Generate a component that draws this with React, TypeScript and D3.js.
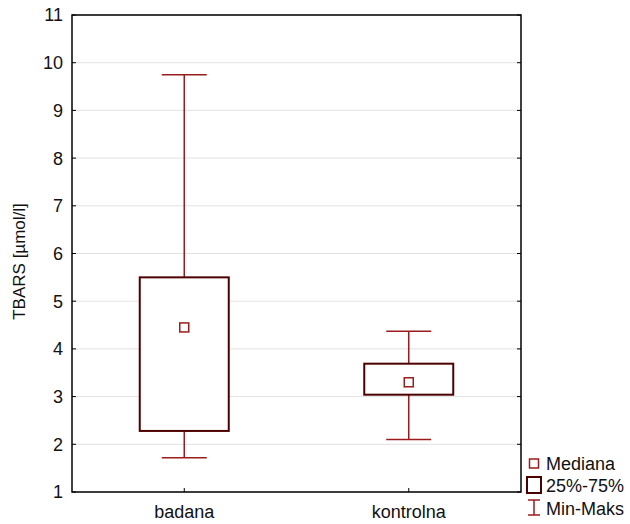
import * as d3 from "d3";

const categories = ["badana", "kontrolna"];
const mins = [1.72, 2.1];
const q1s = [2.28, 3.04];
const medians = [4.45, 3.3];
const q3s = [5.5, 3.69];
const maxs = [9.75, 4.37];
const yTicks = [1, 2, 3, 4, 5, 6, 7, 8, 9, 10, 11];
const legendLabels = ["Mediana", "25%-75%", "Min-Maks"];

const boxColor = "#4d0000";
const whiskerColor = "#9b1c1c";

export default function App() {
  const width = 630;
  const height = 524;
  const margin = { top: 15, right: 109, bottom: 32, left: 72 };
  const innerWidth = width - margin.left - margin.right;
  const innerHeight = height - margin.top - margin.bottom;

  const x = d3.scalePoint().domain(categories).range([0, innerWidth]).padding(0.5);
  const y = d3.scaleLinear().domain([1, 11]).range([innerHeight, 0]);

  const boxW = 89;
  const capW = 45;
  const fs = 18;
  const font = "'Liberation Sans', Arial, sans-serif";

  return (
    <svg
      width={width}
      height={height}
      style={{ position: "absolute", left: 0, top: 0, fontFamily: font }}
    >
      <rect width={width} height={height} fill="#fff" />
      <g transform={`translate(${margin.left},${margin.top})`}>
        {/* gridlines */}
        {yTicks.map((t) => (
          <line key={"g" + t} x1={0} x2={innerWidth} y1={y(t)} y2={y(t)} stroke="#e2e2e2" strokeWidth={1} />
        ))}
        {/* ticks & labels */}
        {yTicks.map((t) => (
          <g key={"t" + t}>
            <line x1={0} x2={4} y1={y(t)} y2={y(t)} stroke="#000" />
            <line x1={innerWidth - 4} x2={innerWidth} y1={y(t)} y2={y(t)} stroke="#000" />
            <text x={-9} y={y(t)} dy="0.36em" textAnchor="end" fontSize={fs} fill="#111">
              {t}
            </text>
          </g>
        ))}
        {categories.map((c) => {
          const cx = x(c)!;
          return (
            <g key={"x" + c}>
              <line x1={cx} x2={cx} y1={innerHeight - 4} y2={innerHeight} stroke="#000" />
              <text x={cx} y={innerHeight + 26} textAnchor="middle" fontSize={fs} fill="#111">
                {c}
              </text>
            </g>
          );
        })}
        {/* boxes */}
        {categories.map((c, i) => {
          const cx = x(c)!;
          return (
            <g key={"b" + c}>
              <line x1={cx} x2={cx} y1={y(maxs[i])} y2={y(q3s[i])} stroke={whiskerColor} strokeWidth={1.5} />
              <line x1={cx} x2={cx} y1={y(q1s[i])} y2={y(mins[i])} stroke={whiskerColor} strokeWidth={1.5} />
              <line x1={cx - capW / 2} x2={cx + capW / 2} y1={y(maxs[i])} y2={y(maxs[i])} stroke={whiskerColor} strokeWidth={1.5} />
              <line x1={cx - capW / 2} x2={cx + capW / 2} y1={y(mins[i])} y2={y(mins[i])} stroke={whiskerColor} strokeWidth={1.5} />
              <rect
                x={cx - boxW / 2}
                y={y(q3s[i])}
                width={boxW}
                height={y(q1s[i]) - y(q3s[i])}
                fill="#fff"
                stroke={boxColor}
                strokeWidth={2}
              />
              <rect x={cx - 4.5} y={y(medians[i]) - 4.5} width={9} height={9} fill="#fff" stroke={whiskerColor} strokeWidth={1.5} />
            </g>
          );
        })}
        {/* frame */}
        <rect x={0} y={0} width={innerWidth} height={innerHeight} fill="none" stroke="#000" strokeWidth={1.5} />
        <text
          transform={`translate(${-47},${innerHeight / 2 + 8}) rotate(-90)`}
          textAnchor="middle"
          fontSize={17}
          fill="#111"
        >
          TBARS [µmol/l]
        </text>
      </g>
      {/* legend */}
      <g>
        <rect x={529.5} y={459} width={9} height={9} fill="#fff" stroke={whiskerColor} strokeWidth={1.5} />
        <text x={546} y={470} fontSize={fs} fill="#111">{legendLabels[0]}</text>
        <rect x={527} y={477} width={14} height={16} fill="#fff" stroke={boxColor} strokeWidth={2} />
        <text x={546} y={492} fontSize={fs} fill="#111">{legendLabels[1]}</text>
        <line x1={534} x2={534} y1={500} y2={515} stroke={whiskerColor} strokeWidth={1.5} />
        <line x1={528} x2={540} y1={500} y2={500} stroke={whiskerColor} strokeWidth={1.5} />
        <line x1={528} x2={540} y1={515} y2={515} stroke={whiskerColor} strokeWidth={1.5} />
        <text x={546} y={515} fontSize={fs} fill="#111">{legendLabels[2]}</text>
      </g>
    </svg>
  );
}
